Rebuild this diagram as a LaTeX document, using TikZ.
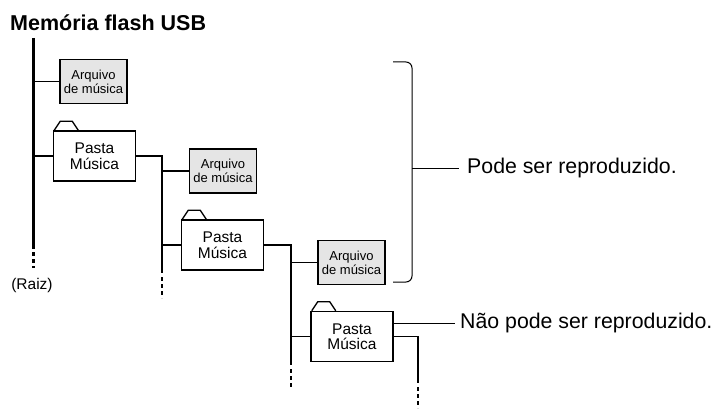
\documentclass[tikz,border=0pt]{standalone}
\usepackage{fontspec}
\setmainfont{Liberation Sans}
\begin{document}
\begin{tikzpicture}[x=1pt,y=-1pt,
  filebox/.style={draw, line width=1.8pt, fill=black!10, minimum width=67pt, minimum height=44pt, inner sep=0pt, align=center, font=\fontsize{13}{14}\selectfont},
  folderbox/.style={draw, line width=1.5pt, fill=white, minimum width=82pt, minimum height=50pt, inner sep=0pt, align=center, font=\fontsize{15.5}{15.5}\selectfont},
  tabline/.style={line width=1.3pt, line join=round},
  conn/.style={line width=1.3pt},
  dashend/.style={line width=1.3pt, dash pattern=on 4pt off 3pt},
  rootline/.style={line width=3pt},
  rootdash/.style={line width=3pt, dash pattern=on 4pt off 3pt},
  lbl/.style={anchor=west, font=\fontsize{21.3}{24}\selectfont, inner sep=0pt},
  bracket/.style={line width=1pt, rounded corners=6pt}]
\useasboundingbox (0,0) rectangle (721,412);

% title
\node[anchor=base west, inner sep=0pt, font=\bfseries\fontsize{21.5}{24}\selectfont] (title) at (10,31) {Memória flash USB};

% root
\coordinate (r0) at (33,38);
\coordinate (r1) at (33,245);
\coordinate (r2) at (33,268);
\draw[rootline] (r0) -- (r1);
\draw[rootdash] (r1) -- (r2);
\node[font=\fontsize{15.5}{16}\selectfont, inner sep=0pt] (raiz) at (32,285) {(Raiz)};

% nodes
\node[filebox] (A1) at (93.5,81.5) {Arquivo\\de música};
\node[folderbox] (F1) at (94.5,156) {Pasta\\Música};
\node[filebox] (A2) at (223,171) {Arquivo\\de música};
\node[folderbox] (F2) at (222.5,245) {Pasta\\Música};
\node[filebox] (A3) at (351.5,262.5) {Arquivo\\de música};
\node[folderbox] (F3) at (352,336.5) {Pasta\\Música};

% folder tabs
\foreach \f in {F1,F2,F3}{
  \draw[tabline] ([xshift=1.5pt]\f.north west) -- ++(6,-9) -- ++(12,0) -- ++(6,9);
}

% level 1 connectors
\draw[conn] (A1.west) -- (A1.west -| r0);
\draw[conn] (F1.west) -- (F1.west -| r0);

% level 2
\coordinate (v1a) at (162,156);
\coordinate (v1b) at (162,273);
\coordinate (v1c) at (162,298);
\draw[conn] (F1.east) -- (v1a) -- (v1b);
\draw[dashend] (v1b) ++(0,4) -- (v1c);
\draw[conn] (A2.west) -- (A2.west -| v1a);
\draw[conn] (F2.west) -- (F2.west -| v1a);

% level 3
\coordinate (v2a) at (291,245);
\coordinate (v2b) at (291,365);
\coordinate (v2c) at (291,389);
\draw[conn] (F2.east) -- (v2a) -- (v2b);
\draw[dashend] (v2b) ++(0,4) -- (v2c);
\draw[conn] (A3.west) -- (A3.west -| v2a);
\draw[conn] (F3.west) -- (F3.west -| v2a);

% level 4
\coordinate (v3a) at (418,336.5);
\coordinate (v3b) at (418,383);
\coordinate (v3c) at (418,408);
\draw[conn] (F3.east) -- (v3a) -- (v3b);
\draw[dashend] (v3b) ++(0,4) -- (v3c);

% bracket
\coordinate (b1) at (393,62);
\coordinate (b2) at (412,62);
\coordinate (b3) at (412,282);
\coordinate (b4) at (393,282);
\draw[bracket] (b1) -- (b2) -- (b3) -- (b4);
\node[lbl] (pode) at (467,168) {Pode ser reproduzido.};
\draw[line width=1pt] (b2 |- pode.west) -- ([xshift=-8pt]pode.west);

% not playable
\node[lbl] (nao) at (460,323) {Não pode ser reproduzido.};
\draw[line width=1pt] (F3.east |- nao.west) -- ([xshift=-5pt]nao.west);
\end{tikzpicture}
\end{document}
